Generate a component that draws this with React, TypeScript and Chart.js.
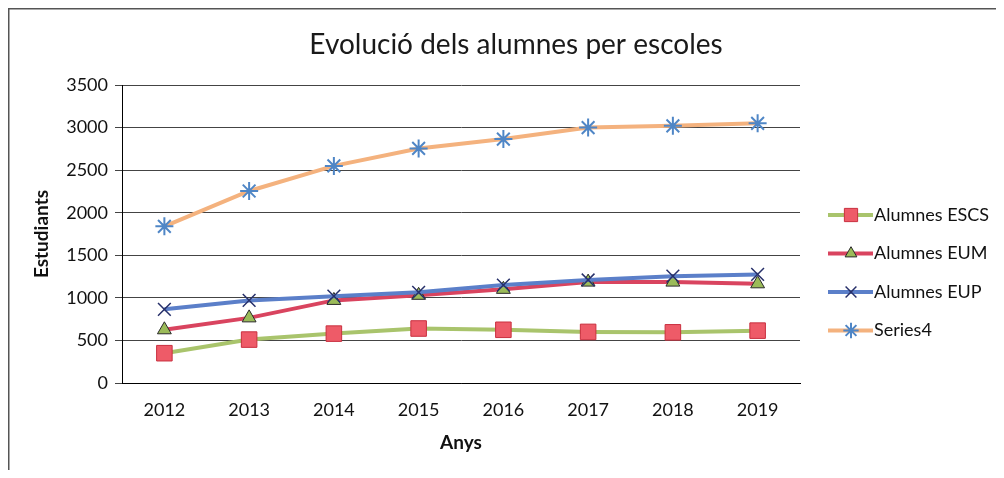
import React, { useEffect, useRef } from 'react';
import { Chart, registerables } from 'chart.js';
import { drawPoint } from 'chart.js/helpers';

Chart.register(...registerables);

const years = ['2012', '2013', '2014', '2015', '2016', '2017', '2018', '2019'];
const alumnesESCS = [350, 510, 580, 640, 625, 600, 595, 615];
const alumnesEUM = [625, 765, 970, 1030, 1100, 1185, 1185, 1165];
const alumnesEUP = [865, 970, 1020, 1065, 1150, 1210, 1255, 1275];
const series4 = [1840, 2255, 2550, 2755, 2865, 3000, 3020, 3050];
const yMin = 0;
const yMax = 3500;
const yStep = 500;

const titleText = 'Evolució dels alumnes per escoles';
const yTitle = 'Estudiants';
const xTitle = 'Anys';

const FONT = 'Lato, "Open Sans", sans-serif';

const framePlugin = {
  id: 'frame',
  beforeDraw(chart: any) {
    const ctx = chart.ctx;
    ctx.save();
    ctx.strokeStyle = '#555';
    ctx.lineWidth = 1.5;
    ctx.beginPath();
    ctx.moveTo(0.75, chart.height);
    ctx.lineTo(0.75, 0.75);
    ctx.lineTo(chart.width, 0.75);
    ctx.stroke();
    ctx.restore();
  },
};

const titlePlugin = {
  id: 'customTitle',
  afterDraw(chart: any) {
    const ctx = chart.ctx;
    ctx.save();
    ctx.font = `28px ${FONT}`;
    ctx.fillStyle = '#1a1a1a';
    ctx.textAlign = 'center';
    ctx.textBaseline = 'middle';
    ctx.fillText(titleText, 508, 37);
    ctx.restore();
  },
};

const legendPlugin = {
  id: 'customLegend',
  afterDraw(chart: any) {
    const ctx = chart.ctx;
    chart.data.datasets.forEach((ds: any, i: number) => {
      const y = 207 + i * 38.5;
      ctx.save();
      ctx.strokeStyle = ds.borderColor;
      ctx.lineWidth = 4;
      ctx.beginPath();
      ctx.moveTo(820, y);
      ctx.lineTo(865, y);
      ctx.stroke();
      ctx.fillStyle = ds.pointBackgroundColor;
      ctx.strokeStyle = ds.pointBorderColor;
      ctx.lineWidth = ds.pointBorderWidth;
      drawPoint(ctx, { pointStyle: ds.pointStyle, radius: ds.pointRadius * 0.85, rotation: 0, borderWidth: ds.pointBorderWidth } as any, 843, y);
      ctx.font = `18px ${FONT}`;
      ctx.fillStyle = '#111';
      ctx.textAlign = 'left';
      ctx.textBaseline = 'middle';
      ctx.fillText(ds.label, 866, y);
      ctx.restore();
    });
  },
};

export default function App() {
  const ref = useRef<HTMLCanvasElement>(null);
  useEffect(() => {
    if (!ref.current) return;
    const chart = new Chart(ref.current, {
      type: 'line',
      data: {
        labels: years,
        datasets: [
          {
            label: 'Alumnes ESCS',
            data: alumnesESCS,
            borderColor: '#A9C46C',
            borderWidth: 4,
            pointStyle: 'rect',
            pointRadius: 11,
            pointBackgroundColor: '#EE5B68',
            pointBorderColor: '#C9303F',
            pointBorderWidth: 1,
            order: 4,
          },
          {
            label: 'Alumnes EUM',
            data: alumnesEUM,
            borderColor: '#D9445F',
            borderWidth: 4,
            pointStyle: 'triangle',
            pointRadius: 8,
            pointBackgroundColor: '#9BBB59',
            pointBorderColor: '#2a2a2a',
            pointBorderWidth: 1,
            order: 3,
          },
          {
            label: 'Alumnes EUP',
            data: alumnesEUP,
            borderColor: '#5B7FC9',
            borderWidth: 4,
            pointStyle: 'crossRot',
            pointRadius: 9,
            pointBackgroundColor: '#5B7FC9',
            pointBorderColor: '#27306A',
            pointBorderWidth: 1.5,
            order: 2,
          },
          {
            label: 'Series4',
            data: series4,
            borderColor: '#F4B27E',
            borderWidth: 4,
            pointStyle: 'star',
            pointRadius: 9,
            pointBackgroundColor: '#6A9BD8',
            pointBorderColor: '#4F86C6',
            pointBorderWidth: 2,
            order: 1,
          },
        ],
      },
      options: {
        animation: false,
        responsive: false,
        maintainAspectRatio: false,
        layout: { padding: { top: 77, right: 196, bottom: 0, left: 0 } },
        plugins: {
          legend: { display: false },
          title: { display: false },
          tooltip: { enabled: false },
        },
        scales: {
          x: {
            offset: true,
            grid: { display: false, drawTicks: false, offset: true },
            border: { display: true, color: '#000', width: 1 },
            ticks: { padding: 16, color: '#111', font: { family: FONT, size: 18 } },
            title: {
              display: true,
              text: xTitle,
              color: '#111',
              font: { family: FONT, size: 19, weight: 'bold' },
              padding: { top: 0, bottom: 16 },
            },
            afterFit(s: any) {
              s.height = 87;
            },
          },
          y: {
            min: yMin,
            max: yMax,
            ticks: {
              stepSize: yStep,
              padding: 7,
              color: '#111',
              font: { family: FONT, size: 18 },
              callback: (v: any) => String(v),
            },
            grid: { color: '#444', lineWidth: 1, drawTicks: true, tickLength: 7 },
            border: { display: true, color: '#000', width: 1 },
            title: {
              display: true,
              text: yTitle,
              color: '#111',
              font: { family: FONT, size: 19, weight: 'bold' },
              padding: { top: 22, bottom: 0 },
            },
            afterFit(s: any) {
              s.width = 114;
            },
          },
        },
      } as any,
      plugins: [framePlugin, titlePlugin, legendPlugin],
    });
    return () => chart.destroy();
  }, []);
  return (
    <div style={{ width: 988, height: 462 }}>
      <canvas ref={ref} width={988} height={462} style={{ display: 'block', width: 988, height: 462 }} />
    </div>
  );
}
